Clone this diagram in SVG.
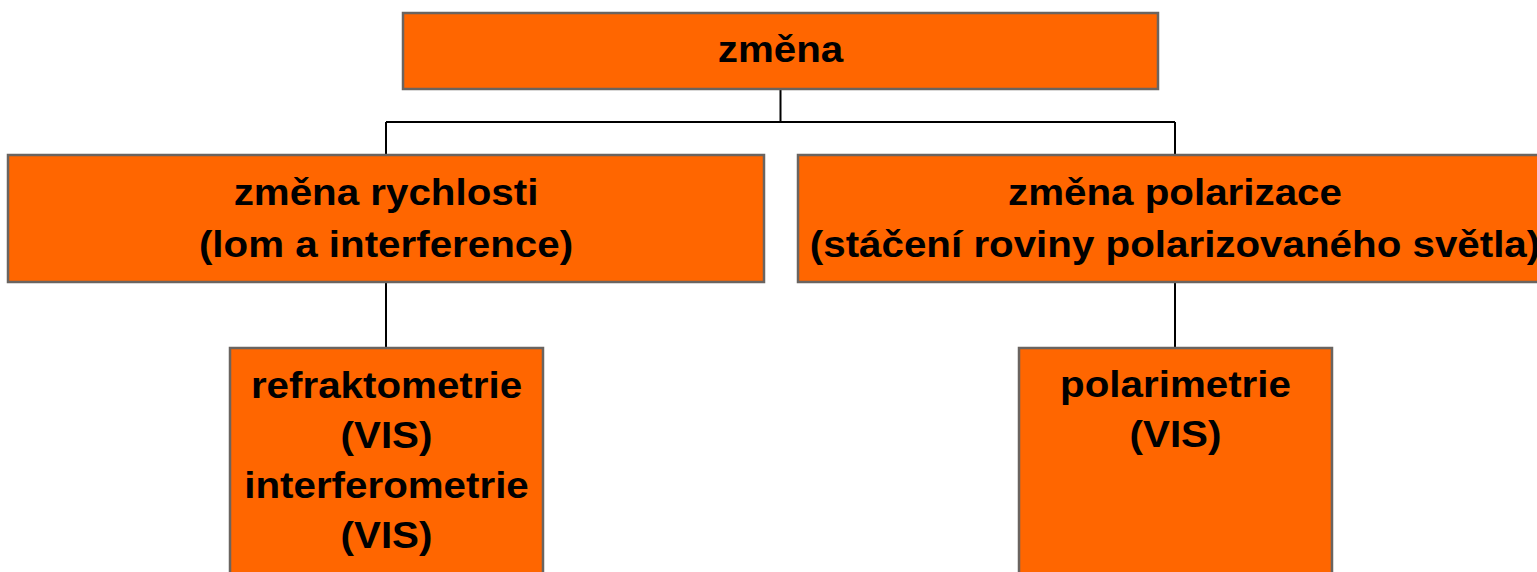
<svg xmlns="http://www.w3.org/2000/svg" width="1537" height="572" viewBox="0 0 1537 572">
<style>
.box{fill:#FF6600;stroke:#6a6460;stroke-width:2.5}
.lbl{font-family:"Liberation Sans",Arial,sans-serif;font-weight:bold;font-size:37px;fill:#000;text-anchor:middle}
.con{fill:none;stroke:#000;stroke-width:2}
</style>
<rect width="1537" height="572" fill="#fff"/>
<g id="connectors">
<path class="con" d="M780.5 89V122M386 122H1175M386 122V155M1175 122V155"/>
<path class="con" d="M386 282V348"/>
<path class="con" d="M1175 282V348"/>
</g>
<g id="n-zmena">
<rect class="box" x="403" y="13" width="755" height="76"/>
<text class="lbl" transform="translate(780.5,62) scale(1.09,1)" x="0" y="0">změna</text>
</g>
<g id="n-rychlost">
<rect class="box" x="8" y="155" width="756" height="127"/>
<text class="lbl" transform="translate(386,205) scale(1.09,1)"><tspan x="0" y="0">změna rychlosti</tspan><tspan x="0" y="52">(lom a interference)</tspan></text>
</g>
<g id="n-polarizace">
<rect class="box" x="798" y="155" width="754" height="127"/>
<text class="lbl" transform="translate(1175,205) scale(1.09,1)"><tspan x="0" y="0">změna polarizace</tspan><tspan x="0" y="52">(stáčení roviny polarizovaného světla)</tspan></text>
</g>
<g id="n-refrakto">
<rect class="box" x="230" y="348" width="313" height="240"/>
<text class="lbl" transform="translate(386.5,398) scale(1.09,1)"><tspan x="0" y="0">refraktometrie</tspan><tspan x="0" y="50">(VIS)</tspan><tspan x="0" y="100">interferometrie</tspan><tspan x="0" y="150">(VIS)</tspan></text>
</g>
<g id="n-polarimetrie">
<rect class="box" x="1019" y="348" width="313" height="240"/>
<text class="lbl" transform="translate(1175.5,397) scale(1.09,1)"><tspan x="0" y="0">polarimetrie</tspan><tspan x="0" y="50">(VIS)</tspan></text>
</g>
</svg>
